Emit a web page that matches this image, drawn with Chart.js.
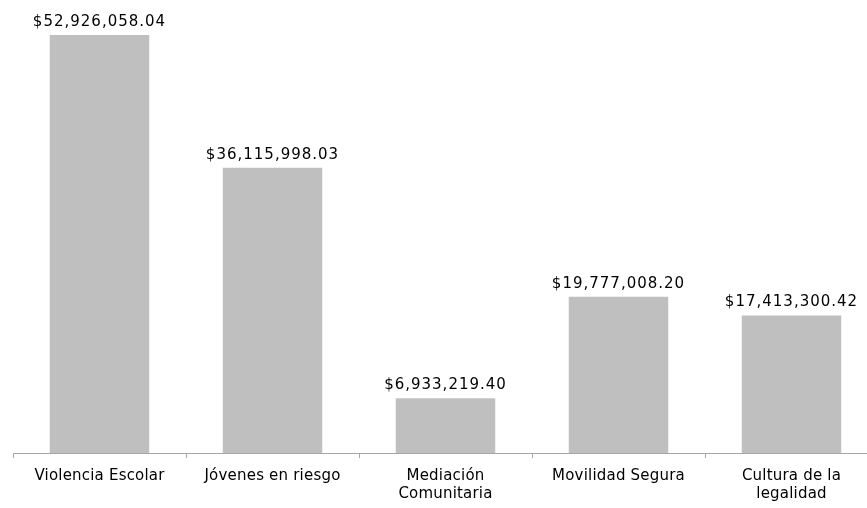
<!DOCTYPE html>
<html>
<head>
<meta charset="utf-8">
<script src="https://cdn.jsdelivr.net/npm/chart.js@4"></script>
<style>
  html, body { margin: 0; padding: 0; background: #fff; overflow: hidden; }
  #wrap { width: 880px; height: 508px; }
</style>
</head>
<body>
<div id="wrap"><canvas id="montos"></canvas></div>
<script>
// Programas y montos
const programas = [
  'Violencia Escolar',
  'Jóvenes en riesgo',
  ['Mediación', 'Comunitaria'],
  'Movilidad Segura',
  ['Cultura de la', 'legalidad']
];
const montos = [52926058.04, 36115998.03, 6933219.40, 19777008.20, 17413300.42];
const fuente = 'DejaVu Sans';

function moneda(v) {
  return '$' + v.toLocaleString('en-US', { minimumFractionDigits: 2, maximumFractionDigits: 2 });
}

// espaciado de letras un poco más abierto, como en el original
const espaciado = {
  id: 'espaciado',
  beforeDraw(chart) { chart.ctx.letterSpacing = '0.2px'; }
};

// etiquetas encima de cada barra
const etiquetas = {
  id: 'etiquetas',
  afterDatasetsDraw(chart) {
    const ctx = chart.ctx;
    const meta = chart.getDatasetMeta(0);
    ctx.save();
    ctx.font = '15px "' + fuente + '"';
    ctx.letterSpacing = '1px';
    ctx.fillStyle = '#000';
    ctx.textAlign = 'center';
    ctx.textBaseline = 'alphabetic';
    meta.data.forEach((bar, i) => {
      ctx.fillText(moneda(montos[i]), bar.x, bar.y - 9);
    });
    ctx.restore();
  }
};

const ctx = document.getElementById('montos').getContext('2d');
const chart = new Chart(ctx, {
  type: 'bar',
  data: {
    labels: programas,
    datasets: [{
      data: montos,
      backgroundColor: '#bfbfbf',
      barPercentage: 0.575,
      categoryPercentage: 1
    }]
  },
  options: {
    responsive: true,
    maintainAspectRatio: false,
    animation: false,
    layout: { padding: { left: 13, right: 2, top: 0, bottom: 0 } },
    plugins: { legend: { display: false }, tooltip: { enabled: false } },
    scales: {
      x: {
        afterFit: (scale) => { scale.height = 55; },
        grid: { offset: true, drawOnChartArea: false, tickLength: 5, color: '#a6a6a6' },
        border: { display: true, color: '#a6a6a6' },
        ticks: { color: '#000', padding: 9, maxRotation: 0, font: { family: fuente, size: 15 } }
      },
      y: {
        display: false,
        min: 0,
        max: 57360000
      }
    }
  },
  plugins: [espaciado, etiquetas]
});
</script>
</body>
</html>
